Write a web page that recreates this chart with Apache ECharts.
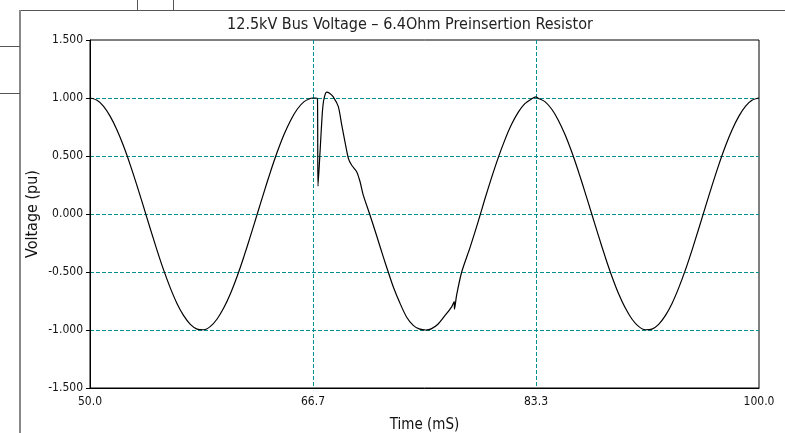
<!DOCTYPE html>
<html>
<head>
<meta charset="utf-8">
<script src="https://cdn.jsdelivr.net/npm/echarts@6/dist/echarts.min.js"></script>
<style>
  html, body { margin: 0; padding: 0; background: #fff; }
  #chart { width: 785px; height: 433px; }
</style>
</head>
<body>
<div id="chart"></div>
<script>
// Bus voltage trace (time in ms, voltage in pu)
const timeMs = [
  50, 50.5, 51, 51.5, 52, 52.5, 53, 53.5, 54, 54.5, 55, 55.5, 56, 56.5, 57, 57.5,
  58, 58.5, 59, 59.5, 60, 60.5, 61, 61.5, 62, 62.5, 63, 63.5, 64, 64.5, 65, 65.5,
  66, 66.5, 66.67, 66.85, 67.0, 67.04, 67.2, 67.35, 67.45, 67.6, 67.7, 67.9,
  68.18, 68.56, 68.81, 69.06, 69.31, 69.56, 69.93, 70.18, 70.43, 70.9, 71.43,
  71.92, 72.29, 72.67, 73.17, 73.67, 74.16, 74.6, 75.1, 75.5, 76, 76.5, 77.03,
  77.22, 77.24, 77.4, 77.78, 78.4, 79, 79.5, 80, 80.5, 81, 81.5, 82, 82.5, 83,
  83.33, 83.5, 84, 84.5, 85, 85.5, 86, 86.5, 87, 87.5, 88, 88.5, 89, 89.5, 90,
  90.5, 91, 91.5, 92, 92.5, 93, 93.5, 94, 94.5, 95, 95.5, 96, 96.5, 97, 97.5,
  98, 98.5, 99, 99.5, 100
];
const voltagePu = [
  1.00, 0.982, 0.93, 0.844, 0.729, 0.588, 0.426, 0.249, 0.063, -0.125, -0.309, -0.482, -0.637, -0.771, -0.876, -0.951,
  -0.992, -0.998, -0.969, -0.905, -0.809, -0.685, -0.536, -0.368, -0.187, 0.0, 0.187, 0.368, 0.536, 0.685, 0.809, 0.905,
  0.969, 0.998, 1.0, 1.0, 0.995, 0.24, 0.55, 0.85, 0.97, 1.04, 1.05, 1.04,
  1.01, 0.925, 0.77, 0.62, 0.48, 0.42, 0.365, 0.28, 0.16, 0.0, -0.19,
  -0.37, -0.5, -0.63, -0.77, -0.89, -0.96, -0.99, -1.0, -0.99, -0.95, -0.88, -0.80,
  -0.755, -0.82, -0.70, -0.5, -0.29, -0.07, 0.125, 0.309, 0.482, 0.637, 0.771, 0.876, 0.951, 0.992,
  1.01, 0.998, 0.969, 0.905, 0.809, 0.685, 0.536, 0.368, 0.187, 0.0, -0.187, -0.368, -0.536, -0.685, -0.809,
  -0.905, -0.969, -0.998, -0.992, -0.951, -0.876, -0.771, -0.637, -0.482, -0.309, -0.125, 0.063, 0.249, 0.426, 0.588,
  0.729, 0.844, 0.93, 0.982, 1.0
];
const xTicks = [50, 66.6667, 83.3333, 100];

const FONT = "'DejaVu Sans Condensed', 'Liberation Sans Narrow', sans-serif";
const INK = '#111';
const TEAL = '#009090';
const FRAME = '#555';

const chart = echarts.init(document.getElementById('chart'), null, { renderer: 'canvas' });

const gridLine = { show: true, showMinLine: false, showMaxLine: false, lineStyle: { color: TEAL, type: [4, 2], width: 1 } };

chart.setOption({
  animation: false,
  backgroundColor: '#fff',
  textStyle: { fontFamily: FONT },
  title: {
    text: '12.5kV Bus Voltage – 6.4Ohm Preinsertion Resistor',
    left: 405, top: 12, textAlign: 'center',
    textStyle: { fontFamily: FONT, fontSize: 16, fontWeight: 'normal', color: '#222' },
  },
  // stray frame lines from the original screenshot
  graphic: [
    { type: 'line', shape: { x1: 20, y1: 10.5, x2: 785, y2: 10.5 }, style: { stroke: FRAME, lineWidth: 1 } },
    { type: 'line', shape: { x1: 20, y1: 10, x2: 20, y2: 433 }, style: { stroke: '#888', lineWidth: 2 } },
    { type: 'line', shape: { x1: 137.5, y1: 0, x2: 137.5, y2: 10 }, style: { stroke: FRAME, lineWidth: 1 } },
    { type: 'line', shape: { x1: 173.5, y1: 0, x2: 173.5, y2: 10 }, style: { stroke: FRAME, lineWidth: 1 } },
    { type: 'line', shape: { x1: 0, y1: 46.5, x2: 20, y2: 46.5 }, style: { stroke: FRAME, lineWidth: 1 } },
    { type: 'line', shape: { x1: 0, y1: 93.5, x2: 20, y2: 93.5 }, style: { stroke: FRAME, lineWidth: 1 } },
  ],
  grid: {
    left: 90, right: 26, top: 40, bottom: 45,
    outerBoundsMode: 'none', containLabel: false,
    show: true, borderColor: '#000', borderWidth: 1,
  },
  xAxis: {
    type: 'value', min: 50, max: 100, interval: 50 / 3,
    name: 'Time (mS)', nameLocation: 'middle', nameGap: 30, nameMoveOverlap: false,
    nameTextStyle: { fontFamily: FONT, fontSize: 15, color: INK },
    axisLine: { onZero: false, lineStyle: { color: '#000' } },
    axisTick: { show: false },
    axisLabel: {
      customValues: xTicks, margin: 8,
      fontFamily: FONT, fontSize: 12, color: INK,
      formatter: (v) => v.toFixed(1),
    },
    splitLine: gridLine,
  },
  yAxis: {
    type: 'value', min: -1.5, max: 1.5, interval: 0.5,
    name: 'Voltage (pu)', nameLocation: 'middle', nameGap: 49, nameMoveOverlap: false,
    nameTextStyle: { fontFamily: FONT, fontSize: 16, color: INK },
    axisLine: { show: true, onZero: false, lineStyle: { color: '#000' } },
    axisTick: { show: true, length: 4, lineStyle: { color: '#000' } },
    axisLabel: {
      margin: 7, fontFamily: FONT, fontSize: 12, color: INK,
      formatter: (v) => v.toFixed(3),
    },
    splitLine: gridLine,
  },
  series: [{
    type: 'line',
    data: timeMs.map((t, i) => [t, voltagePu[i]]),
    showSymbol: false,
    smooth: 0.25,
    lineStyle: { color: '#000', width: 1.2 },
    itemStyle: { color: '#000' },
    z: 3,
  }],
});
</script>
</body>
</html>
